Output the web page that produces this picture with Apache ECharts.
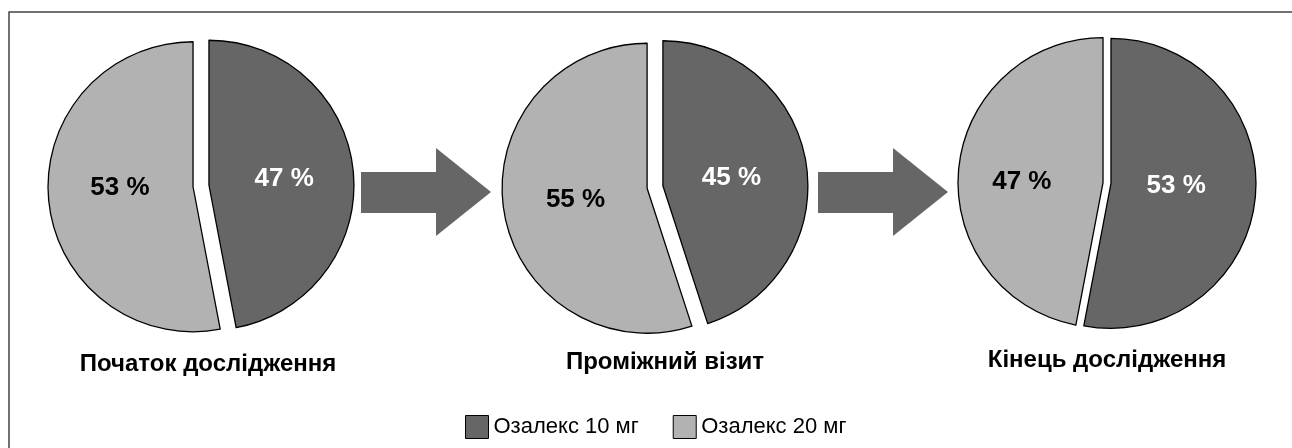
<!DOCTYPE html>
<html>
<head>
<meta charset="utf-8">
<script src="https://cdn.jsdelivr.net/npm/echarts@6/dist/echarts.min.js"></script>
<style>
html,body{margin:0;padding:0;background:#fff;}
#chart{width:1292px;height:448px;}
</style>
</head>
<body>
<div id="chart"></div>
<script>
// Data
const seriesNames = ['Озалекс 10 мг', 'Озалекс 20 мг'];
const stageTitles = ['Початок дослідження', 'Проміжний візит', 'Кінець дослідження'];
const dose10 = [47, 45, 53];
const dose20 = [53, 55, 47];

const DARK = '#666666';
const LIGHT = '#b2b2b2';
const FONT = '"Liberation Sans", Arial, sans-serif';

const centers = [[201, 186], [655, 187], [1107, 183]];
const offsets = [8, 8, 4];
const titleY = [364, 362, 360];
const labelShift = [
  [[0, 1], [2, -6]],
  [[-6, 4], [3, 0]],
  [[-10, -5], [-6, 6]]
];
const R = 145;

const series = stageTitles.map((t, i) => ({
  type: 'pie',
  name: t,
  center: centers[i],
  radius: R,
  startAngle: 90,
  clockwise: true,
  selectedMode: 'multiple',
  selectedOffset: offsets[i],
  animation: false,
  silent: true,
  emphasis: { disabled: true },
  itemStyle: { borderColor: '#000', borderWidth: 1.3 },
  label: {
    show: true,
    position: 'inside',
    formatter: '{c} %',
    fontFamily: FONT,
    fontWeight: 'bold',
    fontSize: 26
  },
  labelLayout: function (p) {
    const s = labelShift[i][p.dataIndex];
    return { dx: s[0], dy: s[1] };
  },
  labelLine: { show: false },
  data: [
    { name: seriesNames[0], value: dose10[i], selected: true,
      itemStyle: { color: DARK }, label: { color: '#ffffff' },
      select: { itemStyle: { color: DARK, borderColor: '#000', borderWidth: 1.3 } } },
    { name: seriesNames[1], value: dose20[i], selected: true,
      itemStyle: { color: LIGHT }, label: { color: '#000000' },
      select: { itemStyle: { color: LIGHT, borderColor: '#000', borderWidth: 1.3 } } }
  ]
}));

function arrow(dx) {
  return {
    type: 'polygon',
    silent: true,
    shape: { points: [
      [361 + dx, 172], [436 + dx, 172], [436 + dx, 148], [491 + dx, 192],
      [436 + dx, 236], [436 + dx, 213], [361 + dx, 213]
    ] },
    style: { fill: DARK }
  };
}

const graphics = [
  { type: 'rect', silent: true, shape: { x: 9, y: 12, width: 1300, height: 500 },
    style: { fill: 'none', stroke: '#444', lineWidth: 1.5 } },
  arrow(0),
  arrow(457)
];
stageTitles.forEach((t, i) => {
  graphics.push({
    type: 'text', silent: true,
    x: centers[i][0] + (i === 0 ? 7 : (i === 1 ? 10 : 0)),
    y: titleY[i],
    style: { text: t, fontFamily: FONT, fontWeight: 'bold', fontSize: 24,
      fill: '#000', align: 'center', verticalAlign: 'middle' }
  });
});

const chart = echarts.init(document.getElementById('chart'), null, { renderer: 'canvas' });
chart.setOption({
  backgroundColor: '#ffffff',
  animation: false,
  legend: {
    data: seriesNames,
    left: 460,
    top: 410,
    itemWidth: 23,
    itemHeight: 23,
    itemGap: 34,
    icon: 'rect',
    selectedMode: false,
    textStyle: { fontFamily: FONT, fontSize: 22, color: '#000' },
    itemStyle: { borderColor: '#000', borderWidth: 1 }
  },
  graphic: graphics,
  series: series
});
</script>
</body>
</html>
